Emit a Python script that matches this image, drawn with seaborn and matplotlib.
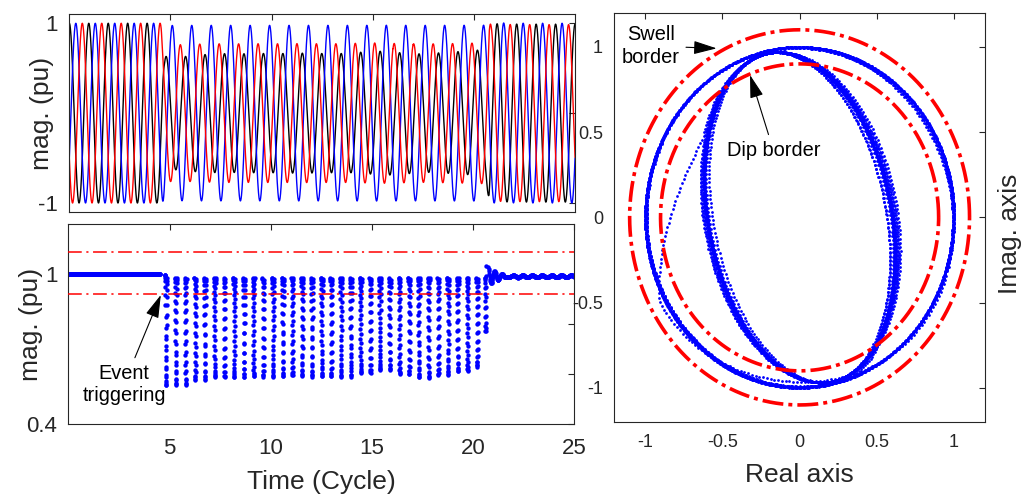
import numpy as np
import pandas as pd
import matplotlib
matplotlib.use("Agg")
import matplotlib.pyplot as plt
import seaborn as sns

sns.set_theme(style="white")
plt.rcParams['font.family'] = ['Liberation Sans', 'DejaVu Sans']
plt.rcParams['axes.unicode_minus'] = False

# Signal settings
t_max = 25            # cycles on the time axis
f_sig = 1.04          # 26 waveform peaks over the 25 cycles
fs = 256              # samples per cycle (waveforms / complex plane)
mag_step = 4          # magnitude reported every 4th sample
dip_start = 4.55      # event triggering
dip_end = 20.6        # recovery
ramp = 0.15           # transition length (cycle)

# phases a (black), b (blue), c (red)
phase_colors = ['black', 'blue', 'red']
amp_pre = [1.0, 1.0, 1.0]
ang_pre = [0, -120, 120]
amp_dip = [0.65, 0.98, 0.77]
ang_dip = [8, -106, 106]
amp_post = [0.99, 1.0, 0.985]
ang_post = [0, -120, 120]
overshoot = 0.045     # ringing just after the recovery
ring_freq = 3.0
ring_decay = 0.35

# lowest / highest magnitude in each cycle of the dip (cycles 5 ... 20)
dip_min = [0.555, 0.577, 0.588, 0.587, 0.59, 0.59, 0.594, 0.59,
           0.59, 0.605, 0.617, 0.6, 0.586, 0.597, 0.612, 0.63]
dip_max = 0.985

swell_level = 1.09    # thresholds in the magnitude plot
dip_level = 0.92
swell_radius = 1.1    # borders in the complex plane
dip_radius = 0.9

# Build the three phase waveforms from the phasors
a = np.exp(2j * np.pi / 3)
t = np.arange(0, t_max + 1e-9, 1 / fs)
P_pre = np.array(amp_pre) * np.exp(1j * np.deg2rad(ang_pre))
P_dip = np.array(amp_dip) * np.exp(1j * np.deg2rad(ang_dip))
P_post = np.array(amp_post) * np.exp(1j * np.deg2rad(ang_post))

# symmetrical components of the dip, sized per cycle from the magnitude plot
V0 = P_dip.sum() / 3
Vp = (P_dip[0] + a * P_dip[1] + a ** 2 * P_dip[2]) / 3
Vn = (P_dip[0] + a ** 2 * P_dip[1] + a * P_dip[2]) / 3
cyc = np.clip(np.floor(t).astype(int) - 5, 0, len(dip_min) - 1)
lo = np.array(dip_min)[cyc]
Vp_t = Vp / abs(Vp) * (dip_max + lo) / 2
Vn_t = Vn / abs(Vn) * (dip_max - lo) / 2
P_dip_t = np.stack([V0 + Vp_t + Vn_t,
                    V0 + a ** 2 * Vp_t + a * Vn_t,
                    V0 + a * Vp_t + a ** 2 * Vn_t], axis=1)

w_in = np.clip((t - dip_start) / ramp, 0, 1)[:, None]
w_out = np.clip((t - dip_end) / ramp, 0, 1)[:, None]
dt_r = np.clip(t - (dip_end + ramp), 0, None)
ring = (1 + overshoot * np.exp(-dt_r / ring_decay) * np.cos(2 * np.pi * ring_freq * dt_r))[:, None]
P = (1 - w_in) * P_pre + w_in * (1 - w_out) * P_dip_t + w_out * P_post * ring
v = np.real(P * np.exp(2j * np.pi * f_sig * t)[:, None])

# Clarke transform -> complex plane and magnitude
s = (2 / 3) * (v[:, 0] + a * v[:, 1] + a ** 2 * v[:, 2])
t_m = t[::mag_step]
mag = np.abs(s)[::mag_step]

# magnitude estimates come in bursts, one column per half cycle
x_mag = t_m.copy()
idx = np.where((t_m >= dip_start) & (t_m <= dip_end + ramp))[0]
m = mag[idx]
peaks = idx[1:-1][(m[1:-1] >= m[:-2]) & (m[1:-1] > m[2:])]
for group in np.split(idx, np.searchsorted(idx, peaks)):
    if len(group) < 3:
        continue
    centre = t_m[group[np.argmin(mag[group])]]
    x_mag[group] = centre + 0.2 * (t_m[group] - centre)

df_mag = pd.DataFrame({'t': x_mag, 'mag': mag})
df_xy = pd.DataFrame({'re': s.real, 'im': s.imag})

theta = np.linspace(0, 2 * np.pi, 721)

# Figure
fig = plt.figure(figsize=(10.3, 4.99), dpi=100)
ax1 = fig.add_axes([0.0673, 0.5752, 0.491, 0.3962])
ax2 = fig.add_axes([0.0664, 0.1503, 0.4909, 0.4002])
ax3 = fig.add_axes([0.5963, 0.1543, 0.36, 0.8202])

edge = '#262626'

# top: three phase voltages
for k in range(3):
    sns.lineplot(x=t, y=v[:, k], color=phase_colors[k], lw=1.0, ax=ax1,
                 estimator=None, sort=False)
ax1.set_xlim(0, t_max)
ax1.set_ylim(-1.1, 1.1)
ax1.set_xticks([5, 10, 15, 20])
ax1.set_xticklabels([])
ax1.set_yticks([-1, 0, 1])
ax1.set_yticklabels(['-1', '', '1'])
ax1.set_ylabel('mag. (pu)', fontsize=19, color=edge)
ax1.yaxis.set_label_coords(-0.030, 0.5)

# bottom: magnitude
sns.scatterplot(data=df_mag, x='t', y='mag', s=10, color='blue', linewidth=0, ax=ax2)
ax2.axhline(swell_level, color='red', lw=1.1, ls=(0, (9, 3, 1.4, 3)), zorder=5)
ax2.axhline(dip_level, color='red', lw=1.1, ls=(0, (9, 3, 1.4, 3)), zorder=5)
ax2.set_xlim(0, t_max)
ax2.set_ylim(0.4, 1.2)
ax2.set_xticks([5, 10, 15, 20, 25])
ax2.set_yticks([0.4, 0.6, 0.8, 1.0])
ax2.set_yticklabels(['0.4', '', '', '1'])
ax2.set_xlabel('Time (Cycle)', fontsize=19, color=edge)
ax2.set_ylabel('mag. (pu)', fontsize=19, color=edge)
ax2.xaxis.set_label_coords(0.5, -0.23)
ax2.yaxis.set_label_coords(-0.050, 0.5)

arrow = dict(arrowstyle='-|>,head_length=0.55,head_width=0.16', mutation_scale=26,
             color='black', lw=0.8, shrinkA=2, shrinkB=0)
ax2.annotate('Event\ntriggering', xy=(4.57, 0.917), xytext=(2.75, 0.56),
             ha='center', va='center', fontsize=14.4, color='black',
             arrowprops=arrow, zorder=6)

# right: complex plane
sns.scatterplot(data=df_xy, x='re', y='im', s=4, color='blue', linewidth=0, ax=ax3)
for r in [swell_radius, dip_radius]:
    sns.lineplot(x=r * np.cos(theta), y=r * np.sin(theta), color='red', lw=2.6,
                 ls=(0, (5.8, 1.4, 1.1, 1.4)), ax=ax3, estimator=None, sort=False,
                 zorder=5)
ax3.set_xlim(-1.2, 1.2)
ax3.set_ylim(-1.2, 1.2)
ticks = [-1, -0.5, 0, 0.5, 1]
ax3.set_xticks(ticks)
ax3.set_yticks(ticks)
ax3.set_xticklabels(['-1', '-0.5', '0', '0.5', '1'])
ax3.set_yticklabels(['-1', '-0.5', '0', '0.5', '1'])
ax3.set_xlabel('Real axis', fontsize=19, color=edge)
ax3.set_ylabel('Imag. axis', fontsize=19, color=edge)
ax3.yaxis.set_label_position('right')
ax3.xaxis.set_label_coords(0.5, -0.101)
ax3.yaxis.set_label_coords(1.035, 0.46)
ax3.annotate('Swell\nborder', xy=(-0.537, 0.991), xytext=(-0.962, 1.005),
             ha='center', va='center', fontsize=14.4, linespacing=1.25,
             color='black', arrowprops=arrow, zorder=6)
ax3.annotate('Dip border', xy=(-0.321, 0.835), xytext=(-0.17, 0.395),
             ha='center', va='center', fontsize=14.4, color='black',
             arrowprops=arrow, zorder=6)

for ax, lsize, xpad in [(ax1, 16, 9.8), (ax2, 16, 9.8), (ax3, 13, 8.3)]:
    for sp in ax.spines.values():
        sp.set_color(edge)
        sp.set_linewidth(0.8)
    ax.tick_params(direction='in', length=4.5, width=0.8, color=edge,
                   top=True, right=True, labelsize=lsize, labelcolor=edge)
    ax.tick_params(axis='x', pad=xpad)
    ax.tick_params(axis='y', pad=8)
    ax.grid(False)

fig.savefig('out.png', dpi=100)
